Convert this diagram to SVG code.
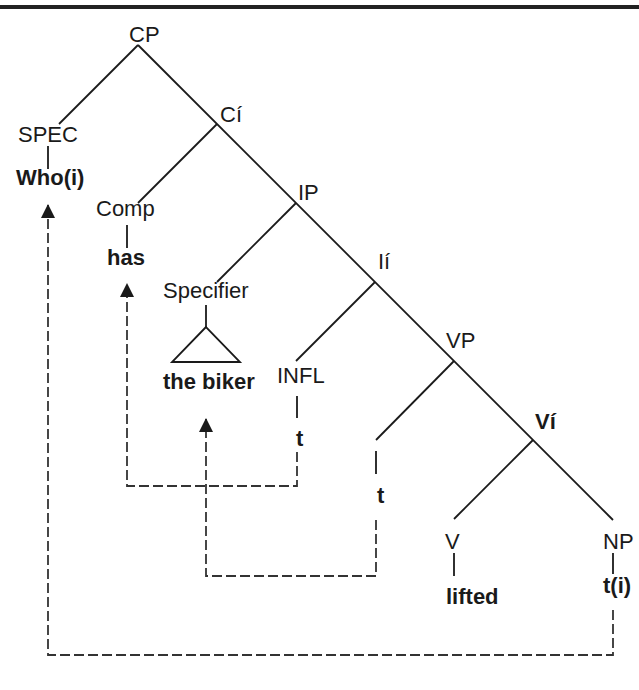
<svg xmlns="http://www.w3.org/2000/svg" width="639" height="690" viewBox="0 0 639 690">
<style>
.lbl{font-family:"Liberation Sans",Arial,sans-serif;font-size:22px;fill:#1a1a1a}
.b{font-weight:bold}
.tree{stroke:#1a1a1a;stroke-width:1.8;fill:none}
.dash{stroke:#333;stroke-width:1.8;fill:none;stroke-dasharray:10 4}
</style>
<defs>
<marker id="arr" markerUnits="userSpaceOnUse" viewBox="0 0 14 14" markerWidth="14" markerHeight="14" refX="13" refY="7" orient="auto">
<path d="M0,0 L14,7 L0,14 z" fill="#1a1a1a"/>
</marker>
</defs>
<rect x="0" y="5" width="639" height="4" fill="#222"/>
<g id="connectors">
<path class="tree" d="M138,45 L613,520"/>
<path class="tree" d="M138,45 L59,124"/>
<path class="tree" d="M217,124 L138,203"/>
<path class="tree" d="M296,203 L217,282"/>
<path class="tree" d="M375,282 L296,361"/>
<path class="tree" d="M454,361 L376,440"/>
<path class="tree" d="M533,440 L454,519"/>
<path class="tree" d="M48,146 V169"/>
<path class="tree" d="M127,225 V248"/>
<path class="tree" d="M206,305 V327"/>
<path class="tree" d="M297,396 V418"/>
<path class="tree" d="M376,451 V474"/>
<path class="tree" d="M454,553 V576"/>
<path class="tree" d="M613,553 V574"/>
<path class="tree" d="M206,327 L172,362 H240 Z"/>
<path class="dash" d="M613,610 V655 H48 V205" marker-end="url(#arr)"/>
<path class="dash" d="M297,452 V486 H127 V284" marker-end="url(#arr)"/>
<path class="dash" d="M376,520 V576 H206 V419" marker-end="url(#arr)"/>
</g>
<g id="n-cp"><text class="lbl" x="129" y="42">CP</text></g>
<g id="n-spec"><text class="lbl" x="18" y="142">SPEC</text></g>
<g id="n-who"><text class="lbl b" x="16" y="185">Who(i)</text></g>
<g id="n-cbar"><text class="lbl" x="220" y="122">Cí</text></g>
<g id="n-comp"><text class="lbl" x="96" y="216">Comp</text></g>
<g id="n-has"><text class="lbl b" x="107" y="265">has</text></g>
<g id="n-ip"><text class="lbl" x="298" y="200">IP</text></g>
<g id="n-specifier"><text class="lbl" x="163" y="298">Specifier</text></g>
<g id="n-biker"><text class="lbl b" x="163" y="389">the biker</text></g>
<g id="n-ibar"><text class="lbl" x="378" y="269">Ií</text></g>
<g id="n-infl"><text class="lbl" x="277" y="383">INFL</text></g>
<g id="n-t1"><text class="lbl b" x="296" y="446">t</text></g>
<g id="n-vp"><text class="lbl" x="446" y="348">VP</text></g>
<g id="n-t2"><text class="lbl b" x="377" y="503">t</text></g>
<g id="n-vbar"><text class="lbl b" x="535" y="429">Ví</text></g>
<g id="n-v"><text class="lbl" x="445" y="549">V</text></g>
<g id="n-lifted"><text class="lbl b" x="446" y="604">lifted</text></g>
<g id="n-np"><text class="lbl" x="603" y="549">NP</text></g>
<g id="n-ti"><text class="lbl b" x="603" y="593">t(i)</text></g>
</svg>
